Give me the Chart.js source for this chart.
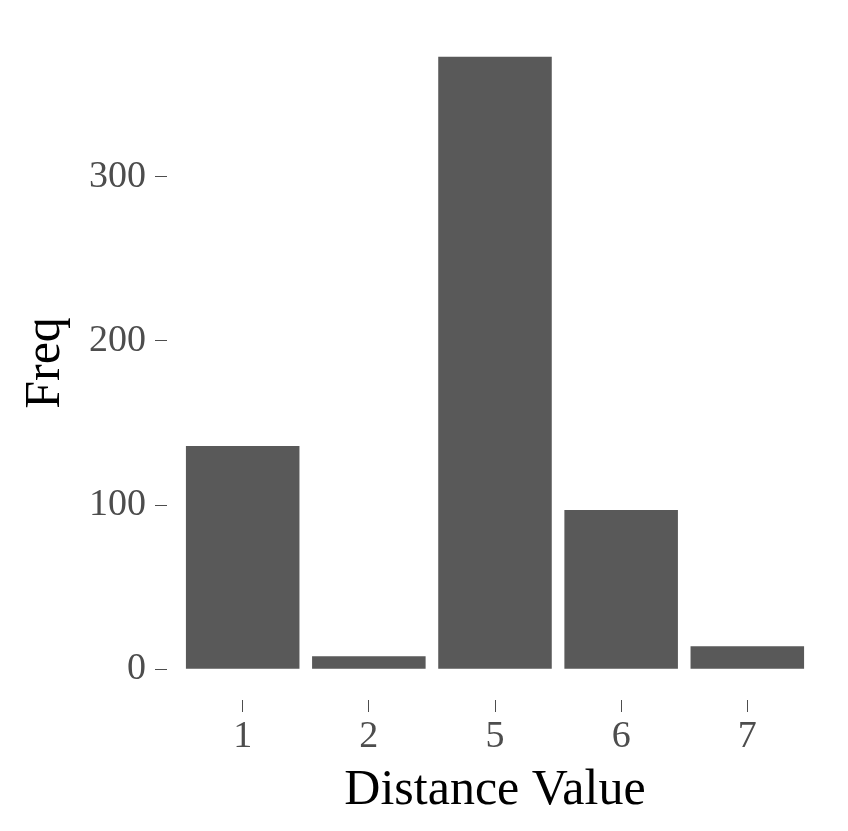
<!DOCTYPE html>
<html>
<head>
<meta charset="utf-8">
<script src="https://cdn.jsdelivr.net/npm/chart.js@4/dist/chart.umd.min.js"></script>
<style>
    html, body { margin: 0; padding: 0; background: #ffffff; }
    #wrap { width: 848px; height: 831px; position: relative; }
</style>
</head>
<body>
<div id="wrap"><canvas id="freqChart"></canvas></div>
<script>
// distance categories and their frequencies
const distanceLabels = ['1', '2', '5', '6', '7'];
const freqValues = [136, 8, 373, 97, 14];
const yTickValues = [0, 100, 200, 300];

const serif = "'Liberation Serif', 'DejaVu Serif', serif";
const tickGrey = '#4d4d4d';

// ggplot-like expansion of the scales
const yPad = Math.max(...freqValues) * 0.05;

const ctx = document.getElementById('freqChart').getContext('2d');

new Chart(ctx, {
    type: 'bar',
    data: {
        datasets: [{
            data: freqValues.map((v, i) => ({ x: i, y: v })),
            backgroundColor: '#595959',
            borderWidth: 0,
            barPercentage: 0.9,
            categoryPercentage: 1.0
        }]
    },
    options: {
        responsive: true,
        maintainAspectRatio: false,
        animation: false,
        layout: { padding: { top: 26, right: 25, left: 0, bottom: 0 } },
        plugins: {
            legend: { display: false },
            tooltip: { enabled: false }
        },
        scales: {
            x: {
                type: 'linear',
                offset: false,
                min: -0.6,
                max: distanceLabels.length - 0.4,
                afterBuildTicks: function (scale) {
                    scale.ticks = distanceLabels.map((l, i) => ({ value: i }));
                },
                afterFit: function (scale) {
                    scale.height = 131;
                    scale.paddingLeft = 0;
                    scale.paddingRight = 0;
                },
                border: { display: false },
                grid: {
                    offset: false,
                    drawOnChartArea: false,
                    drawTicks: true,
                    tickLength: 12,
                    color: tickGrey,
                    lineWidth: 1
                },
                ticks: {
                    padding: 2,
                    color: tickGrey,
                    font: { family: serif, size: 38 },
                    maxRotation: 0,
                    autoSkip: false,
                    callback: function (value) { return distanceLabels[value]; }
                },
                title: {
                    display: true,
                    text: 'Distance Value',
                    color: '#000000',
                    font: { family: serif, size: 50 },
                    padding: { top: 0, bottom: 10 }
                }
            },
            y: {
                min: -yPad,
                max: Math.max(...freqValues) + yPad,
                afterBuildTicks: function (scale) {
                    scale.ticks = yTickValues.map(v => ({ value: v }));
                },
                afterFit: function (scale) {
                    scale.width = 167;
                    scale.paddingTop = 0;
                    scale.paddingBottom = 0;
                },
                border: { display: false },
                grid: {
                    drawOnChartArea: false,
                    drawTicks: true,
                    tickLength: 12,
                    color: tickGrey,
                    lineWidth: 1
                },
                ticks: {
                    padding: 9,
                    color: tickGrey,
                    font: { family: serif, size: 38 }
                },
                title: {
                    display: true,
                    text: 'Freq',
                    color: '#000000',
                    font: { family: serif, size: 50 },
                    padding: { top: 16, bottom: 0 }
                }
            }
        }
    }
});
</script>
</body>
</html>
